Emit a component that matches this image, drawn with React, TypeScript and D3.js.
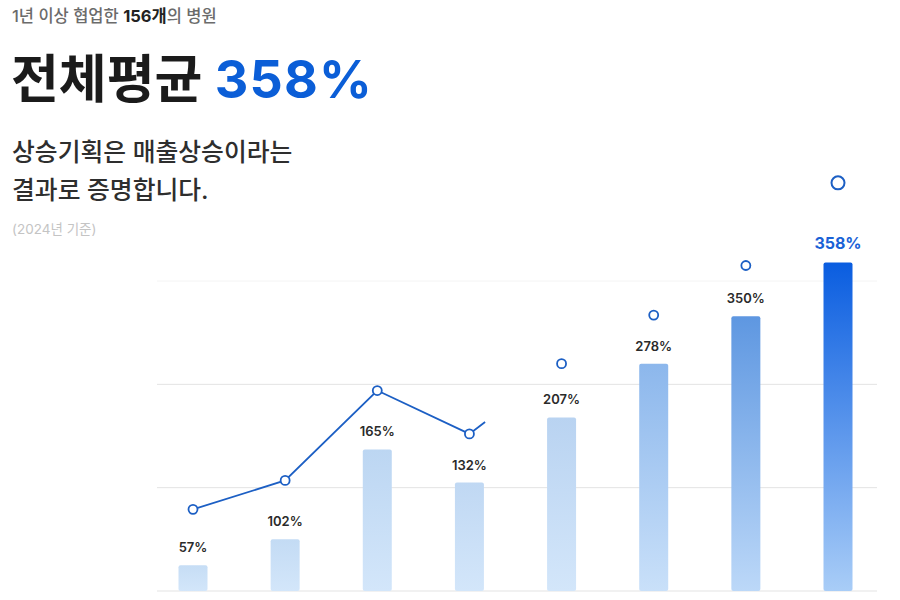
import React from "react";
import * as d3 from "d3";

const categories = ["A", "B", "C", "D", "E", "F", "G", "H"];
const labelValues = [57, 102, 165, 132, 207, 278, 350, 358];
// bar heights as drawn (animation frame), in axis units
const barValues = [25, 50, 137, 105, 168, 220, 266, 318];
// line marker values as drawn
const lineValues = [79, 107, 194, 152, 220, 267, 315, 395];
const gridTicks = [0, 100, 200, 300];
const lineProgress = 3.17; // drawn segments of the line
const topColors = ["#c6ddf5", "#c3dbf4", "#bcd6f2", "#c0d8f3", "#b9d3f1", "#8cb7ec", "#5e97e1", "#0a5de0"];
const bottomColors = ["#d3e6fa", "#d3e6fa", "#d3e6fa", "#d3e6fa", "#d3e6fa", "#c9e0f9", "#bcd8f8", "#a9cdf7"];

const W = 900;
const H = 600;
const BAR_W = 29;

export default function App() {
  const x = d3.scalePoint().domain(categories).range([193, 838]);
  const y = d3.scaleLinear().domain([0, 300]).range([591, 281]);
  const cx = (c: string) => x(c) as number;

  const pts: [number, number][] = categories.map((c, i) => [cx(c), y(lineValues[i])]);
  const full = Math.floor(lineProgress);
  const frac = lineProgress - full;
  const linePts = pts.slice(0, full + 1);
  if (frac > 0 && full + 1 < pts.length) {
    const a = pts[full], b = pts[full + 1];
    linePts.push([a[0] + (b[0] - a[0]) * frac, a[1] + (b[1] - a[1]) * frac]);
  }
  const line = d3.line<[number, number]>().x(d => d[0]).y(d => d[1]);
  const font = "Inter, 'Noto Sans CJK KR', 'Noto Sans', sans-serif";

  return (
    <div style={{ position: "fixed", left: 0, top: 0, width: W, height: H, background: "#fff" }}>
      <svg width={W} height={H} style={{ display: "block", fontFamily: font }}>
        <defs>
          {categories.map((c, i) => (
            <linearGradient key={c} id={`g${i}`} x1="0" y1="0" x2="0" y2="1">
              <stop offset="0%" stopColor={topColors[i]} />
              <stop offset="100%" stopColor={bottomColors[i]} />
            </linearGradient>
          ))}
        </defs>
        <text x={12} y={22} fontSize={16.5} fill="#6b6b6b" fontWeight={500}>
          1년 이상 협업한 <tspan fill="#222" fontWeight={700}>156개</tspan>의 병원
        </text>
        <text x={11} y={98} fontSize={52} fontWeight={700} fill="#1b1b1b">
          전체평균 <tspan fill="#0b5ed7" letterSpacing={1.2}>358%</tspan>
        </text>
        <text x={12} y={161} fontSize={24.8} fontWeight={500} fill="#2e2e2e">상승기획은 매출상승이라는</text>
        <text x={12} y={199} fontSize={24.8} fontWeight={500} fill="#2e2e2e">결과로 증명합니다.</text>
        <text x={12} y={234} fontSize={13.5} fill="#c4c4c4">(2024년 기준)</text>

        {gridTicks.map(t => (
          <line key={t} x1={157} x2={877} y1={y(t)} y2={y(t)} stroke={t === 300 ? "#f4f4f4" : "#e3e3e3"} strokeWidth={1} />
        ))}

        {categories.map((c, i) => (
          <rect key={c} x={cx(c) - BAR_W / 2} y={y(barValues[i])} width={BAR_W} height={y(0) - y(barValues[i])} rx={2} fill={`url(#g${i})`} />
        ))}

        {categories.map((c, i) => (
          <text key={c} x={cx(c)} y={y(barValues[i]) - 13} textAnchor="middle"
            fontSize={i === 7 ? 16 : 13} fontWeight={i === 7 ? 700 : 600}
            fill={i === 7 ? "#1a62d6" : "#2a2a2a"}>
            {labelValues[i]}%
          </text>
        ))}

        <path d={line(linePts) || ""} fill="none" stroke="#1c5fc4" strokeWidth={1.8} />
        {pts.map((p, i) => (
          <circle key={i} cx={p[0]} cy={p[1]} r={i === 7 ? 6.5 : 4.5} fill="#fff" stroke="#1c5fc4" strokeWidth={i === 7 ? 2 : 1.8} />
        ))}
      </svg>
    </div>
  );
}
